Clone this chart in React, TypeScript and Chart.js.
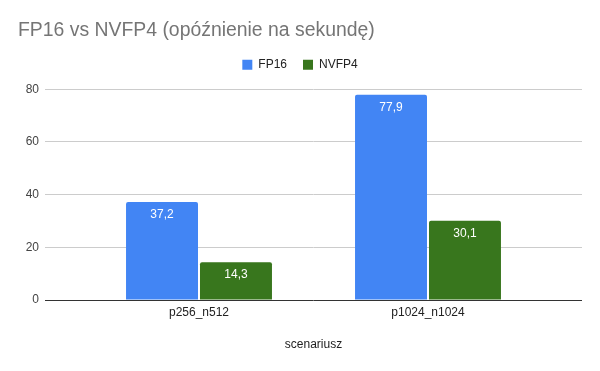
import React, { useEffect, useRef } from 'react';
import { Chart, registerables } from 'chart.js';

Chart.register(...registerables);

const categories = ['p256_n512', 'p1024_n1024'];
const seriesNames = ['FP16', 'NVFP4'];
const fp16Values = [37.2, 77.9];
const nvfp4Values = [14.3, 30.1];
const yTickValues = [0, 20, 40, 60, 80];
const titleText = 'FP16 vs NVFP4 (opóźnienie na sekundę)';
const xAxisTitle = 'scenariusz';

const FONT = "'Liberation Sans', Arial, sans-serif";

const valueLabels = {
  id: 'valueLabels',
  afterDatasetsDraw(chart: any) {
    const ctx = chart.ctx;
    ctx.save();
    ctx.fillStyle = '#ffffff';
    ctx.font = `12px ${FONT}`;
    ctx.textAlign = 'center';
    ctx.textBaseline = 'middle';
    chart.data.datasets.forEach((ds: any, di: number) => {
      const meta = chart.getDatasetMeta(di);
      meta.data.forEach((el: any, i: number) => {
        const v = ds.data[i].y as number;
        ctx.fillText(v.toFixed(1).replace('.', ','), el.x, el.y + 12.5);
      });
    });
    ctx.restore();
  },
};

export default function App() {
  const canvasRef = useRef<HTMLCanvasElement | null>(null);

  useEffect(() => {
    if (!canvasRef.current) return;
    Chart.defaults.font.family = FONT;
    const chart = new Chart(canvasRef.current, {
      type: 'bar',
      data: {
        datasets: [
          {
            label: seriesNames[0],
            data: fp16Values.map((y, i) => ({ x: i, y })),
            backgroundColor: '#4285F4',
            borderRadius: 2,
          },
          {
            label: seriesNames[1],
            data: nvfp4Values.map((y, i) => ({ x: i, y })),
            backgroundColor: '#38761D',
            borderRadius: 2,
          },
        ],
      },
      options: {
        responsive: false,
        animation: false,
        layout: { padding: { left: 18, right: 18, top: 0, bottom: 0 } },
        datasets: { bar: { categoryPercentage: 0.646, barPercentage: 0.973 } },
        plugins: {
          title: {
            display: true,
            text: titleText,
            align: 'start',
            color: '#757575',
            font: { family: FONT, size: 19.4, weight: 'normal', lineHeight: 1.2 },
            padding: { top: 19.4, bottom: 0 },
          },
          subtitle: {
            display: true,
            text: '',
            weight: 500,
            position: 'top',
            font: { size: 1, lineHeight: 1 },
            padding: { top: 7.6, bottom: 0 },
          },
          legend: {
            position: 'top',
            align: 'center',
            labels: {
              boxWidth: 10,
              boxHeight: 10,
              padding: 16,
              color: '#222222',
              font: { size: 12, family: FONT },
            },
          },
          tooltip: { enabled: false },
        },
        scales: {
          x: {
            type: 'linear',
            min: -0.6725,
            max: 1.6725,
            offset: false,
            grid: { display: false, drawTicks: false },
            border: { display: false },
            afterBuildTicks: (s: any) => {
              s.ticks = categories.map((_, i) => ({ value: i }));
            },
            ticks: {
              callback: (v: any) => categories[v as number] ?? '',
              color: '#222222',
              font: { size: 12 },
              padding: 5,
              maxRotation: 0,
              autoSkip: false,
            },
            title: {
              display: true,
              text: xAxisTitle,
              color: '#222222',
              font: { size: 12 },
              padding: { top: 0, bottom: 18.8 },
            },
            afterFit: (s: any) => {
              s.height = 71;
            },
          },
          y: {
            min: 0,
            max: 80,
            afterBuildTicks: (s: any) => {
              s.ticks = yTickValues.map((v) => ({ value: v }));
            },
            ticks: { color: '#444444', padding: 6, font: { size: 12 } },
            grid: {
              color: (c: any) => (c.tick && c.tick.value === 0 ? '#333333' : '#cccccc'),
              drawTicks: false,
            },
            border: { display: false },
            afterFit: (s: any) => {
              s.width = 27;
            },
          },
        },
      } as any,
      plugins: [valueLabels],
    });
    return () => chart.destroy();
  }, []);

  return (
    <div style={{ position: 'absolute', left: 0, top: 0, width: 600, height: 371 }}>
      <canvas ref={canvasRef} width={600} height={371} style={{ display: 'block' }} />
    </div>
  );
}
